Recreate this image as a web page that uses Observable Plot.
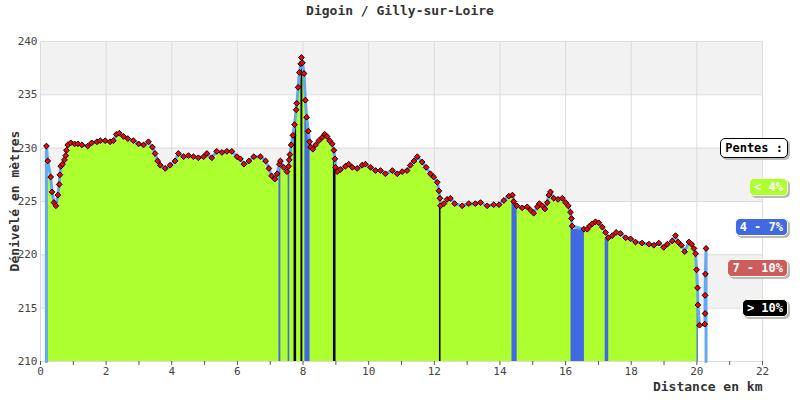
<!DOCTYPE html>
<html><head><meta charset="utf-8">
<script src="https://cdn.jsdelivr.net/npm/d3@7"></script>
<script src="https://cdn.jsdelivr.net/npm/@observablehq/plot@0.6"></script>
<style>
body{margin:0;background:#fff;}
#wrap{position:relative;width:800px;height:400px;font-family:"DejaVu Sans Mono",monospace;overflow:hidden;}
#title{position:absolute;top:3px;left:0;width:800px;text-align:center;font-weight:bold;font-size:13px;color:#333;}
#ylab{position:absolute;left:14px;top:201px;transform:translate(-50%,-50%) rotate(-90deg);font-weight:bold;font-size:13px;color:#333;white-space:nowrap;}
#chart{position:absolute;top:22px;left:0;}
.leg{position:absolute;right:12px;height:18px;line-height:16px;border-radius:5px;font-weight:bold;font-size:12px;color:#fff;padding:0 4px;box-shadow:2px 2px 0 #bbb;border:1px solid #fffbe6;box-sizing:border-box;white-space:pre;}
</style></head>
<body>
<div id="wrap">
  <div id="title">Digoin / Gilly-sur-Loire</div>
  <div id="chart"></div>
  <div id="ylab">Dénivelé en mètres</div>
</div>
<script>
// Distance (km)
const distance = [
  0.18,0.22,0.31,0.35,0.41,0.47,0.53,0.57,0.59,0.62,
  0.67,0.73,0.77,0.79,0.83,0.92,1.04,1.14,1.26,1.44,
  1.56,1.72,1.82,1.97,2.12,2.22,2.31,2.40,2.53,2.66,
  2.83,2.99,3.14,3.29,3.41,3.49,3.57,3.65,3.80,3.95,
  4.10,4.20,4.36,4.51,4.66,4.81,4.97,5.07,5.22,5.37,
  5.53,5.68,5.83,5.99,6.09,6.20,6.35,6.50,6.70,6.86,
  6.96,7.04,7.14,7.21,7.28,7.31,7.41,7.51,7.56,7.58,
  7.60,7.64,7.69,7.74,7.79,7.81,7.85,7.89,7.93,7.95,
  7.98,8.03,8.07,8.11,8.16,8.20,8.23,8.30,8.38,8.48,
  8.58,8.66,8.73,8.81,8.89,8.94,8.97,8.99,9.04,9.14,
  9.29,9.39,9.50,9.65,9.80,9.90,10.06,10.21,10.36,10.51,
  10.72,10.87,11.02,11.17,11.27,11.38,11.48,11.63,11.75,11.88,
  11.98,12.09,12.14,12.17,12.19,12.29,12.39,12.49,12.62,12.85,
  13.05,13.25,13.41,13.61,13.81,13.97,14.12,14.27,14.38,14.42,
  14.51,14.68,14.83,14.93,15.03,15.14,15.20,15.29,15.37,15.44,
  15.49,15.54,15.64,15.77,15.90,16.00,16.08,16.15,16.18,16.20,
  16.56,16.66,16.73,16.81,16.91,17.01,17.12,17.22,17.30,17.42,
  17.54,17.67,17.83,17.98,18.13,18.33,18.54,18.69,18.84,18.99,
  19.10,19.25,19.35,19.43,19.53,19.63,19.76,19.84,19.91,19.96,
  19.99,20.02,20.03,20.08,20.24,20.25,20.25,20.26,20.28
];
// Altitude (m)
const altitude = [
  230.2,228.8,227.3,225.9,224.9,224.6,225.6,226.6,227.5,228.3,
  228.5,228.9,229.3,229.8,230.3,230.5,230.4,230.4,230.3,230.2,
  230.5,230.6,230.7,230.7,230.6,230.7,231.3,231.4,231.1,230.9,
  230.7,230.4,230.3,230.6,230.1,229.5,228.8,228.4,228.1,228.4,
  228.8,229.5,229.2,229.3,229.2,229.1,229.2,229.5,229.1,229.7,
  229.6,229.7,229.7,229.2,229.0,228.5,228.8,229.2,229.2,228.8,
  228.1,227.4,227.1,227.6,228.5,228.8,228.2,227.8,228.3,228.9,
  229.4,230.3,231.2,232.2,233.6,234.2,235.7,237.1,237.9,238.5,
  238.0,237.0,234.5,232.9,231.6,230.6,230.1,229.9,230.3,230.7,
  231.0,231.3,231.1,230.7,230.4,229.8,229.0,228.2,227.8,228.0,
  228.3,228.5,228.2,228.1,228.4,228.5,228.2,227.9,227.9,227.6,
  227.9,227.6,227.8,227.9,228.4,228.8,229.2,228.7,228.2,227.6,
  227.3,226.8,226.0,225.3,224.6,224.8,225.2,225.3,224.8,224.6,
  224.8,224.8,224.9,224.6,224.7,224.7,225.1,225.5,225.6,225.0,
  224.6,224.4,224.5,224.2,223.9,224.5,224.8,224.6,224.3,224.9,
  225.6,225.9,225.3,225.2,225.3,224.9,224.6,224.0,223.4,222.7,
  222.4,222.4,222.7,222.9,223.1,223.0,222.6,222.1,221.6,221.8,
  222.1,222.0,221.6,221.5,221.2,221.1,221.0,220.9,221.1,220.7,
  221.0,221.3,221.8,221.2,220.9,220.3,221.2,221.0,220.6,220.1,
  218.6,216.9,215.3,213.4,213.5,214.5,216.2,218.2,220.6
];
// Slope class of the segment starting at each point (index in categories, -1 = no bar)
const pente = [
  0,0,0,0,0,0,0,0,0,0,
  0,0,0,0,0,0,0,0,0,0,
  0,0,0,0,0,0,0,0,0,0,
  0,0,0,0,0,0,0,0,0,0,
  0,0,0,0,0,0,0,0,0,0,
  0,0,0,0,0,0,0,0,0,0,
  0,0,0,0,1,0,0,0,1,0,
  0,0,0,3,0,0,0,0,0,3,
  0,0,1,1,1,0,0,0,0,0,
  0,0,0,0,0,3,3,0,0,0,
  0,0,0,0,0,0,0,0,0,0,
  0,0,0,0,0,0,0,0,0,0,
  0,0,0,3,0,0,0,0,0,0,
  0,0,0,0,0,0,0,0,1,1,
  0,0,0,0,0,0,0,0,0,0,
  0,0,0,0,0,0,0,0,1,1,
  0,0,0,0,0,0,0,1,0,0,
  0,0,0,0,0,0,0,0,0,0,
  0,0,0,0,0,0,0,0,0,0,
  0,1,-1,-1,-1,-1,-1,-1,0
];
const categories = ["< 4%", "4 - 7%", "7 - 10%", "> 10%"];
const couleurs = ["#adff2f", "#4169e1", "#cd5c5c", "#000000"];
const yTicks = [210, 215, 220, 225, 230, 235, 240];
const xLabels = [0, 2, 4, 6, 8, 10, 12, 14, 16, 18, 20, 22];
const xMinor = d3.range(0, 23, 1);

const n = distance.length;
const points = distance.map((d, i) => ({d, a: altitude[i]}));
const segments = [];
for (let i = 0; i < n - 1; i++) {
  if (pente[i] >= 0) segments.push({x1: distance[i], x2: distance[i + 1], top: Math.min(altitude[i], altitude[i + 1]), k: pente[i], cat: categories[pente[i]]});
}
segments.sort((a, b) => a.k - b.k); // steeper classes drawn on top
const base = yTicks[0];
const outline = [{d: distance[0], a: base}, ...points, {d: distance[n - 1], a: base}];
const bands = [];
for (let i = 1; i < yTicks.length; i += 2) bands.push([yTicks[i], yTicks[i + 1]]);

const chart = Plot.plot({
  width: 800, height: 378,
  marginLeft: 40, marginRight: 38, marginTop: 19, marginBottom: 39,
  style: {fontFamily: "DejaVu Sans Mono", fontSize: "11px", color: "#444", background: "transparent"},
  x: {domain: [0, 22]},
  y: {domain: [210, 240]},
  color: {domain: categories, range: couleurs},
  marks: [
    Plot.rect(bands, {x1: 0, x2: 22, y1: d => d[0], y2: d => d[1], fill: "#f2f2f2"}),
    Plot.gridY(yTicks, {stroke: "#dcdcdc", strokeOpacity: 1}),
    Plot.gridX(xLabels, {stroke: "#dcdcdc", strokeOpacity: 1}),
    Plot.rect(segments, {x1: "x1", x2: "x2", y1: base, y2: "top", fill: "cat", insetLeft: -0.45, insetRight: -0.45}),
    Plot.line(outline, {x: "d", y: "a", stroke: "#62a9f2", strokeWidth: 3}),
    Plot.dot(points, {x: "d", y: "a", symbol: "diamond2", r: 2.6, fill: "red", stroke: "black", strokeWidth: 1}),
    Plot.axisY(yTicks, {tickSize: 0, tickPadding: 3, label: null}),
    Plot.axisX(xMinor, {tickSize: 4, text: null, label: null, stroke: "#555"}),
    Plot.axisX(xLabels, {tickSize: 0, tickPadding: 6, label: null}),
    Plot.text(["Distance en km"], {text: d => d, frameAnchor: "bottom-right", textAnchor: "end", dy: 29, fontWeight: "bold", fontSize: 13, fill: "#333"})
  ]
});
document.getElementById("chart").appendChild(chart);

// Legend
const wrap = document.getElementById("wrap");
const legTops = [178, 218, 259, 299];
const head = document.createElement("div");
head.className = "leg";
head.textContent = "Pentes :";
Object.assign(head.style, {top: "138px", height: "20px", lineHeight: "18px", background: "#fff", color: "#000", border: "1px solid #000"});
wrap.appendChild(head);
categories.forEach((c, i) => {
  const el = document.createElement("div");
  el.className = "leg";
  el.textContent = c;
  el.style.top = legTops[i] + "px";
  el.style.background = couleurs[i];
  wrap.appendChild(el);
});
</script>
</body></html>
